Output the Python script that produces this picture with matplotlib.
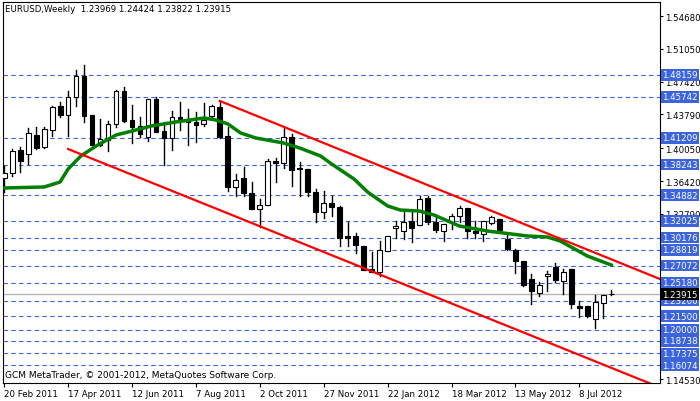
import numpy as np
import matplotlib
matplotlib.use("Agg")
import matplotlib.pyplot as plt

# weekly EURUSD candles (open, high, low, close)
opens = [1.3676, 1.3732, 1.3986, 1.3942, 1.4152, 1.4019, 1.4207, 1.4473, 1.4373, 1.4572,
         1.4804, 1.4373, 1.4041, 1.4097, 1.4274, 1.4638, 1.4318, 1.4251, 1.4130, 1.4550,
         1.4196, 1.4119, 1.4351, 1.4329, 1.4296, 1.4274, 1.4362, 1.4462, 1.4141, 1.3577,
         1.3676, 1.3510, 1.3333, 1.3378, 1.3864, 1.3842, 1.4130, 1.3787, 1.3776, 1.3521,
         1.3300, 1.3400, 1.3356, 1.3035, 1.3035, 1.2924, 1.2670, 1.2637, 1.2869, 1.3123,
         1.3090, 1.3201, 1.3156, 1.3455, 1.3190, 1.3090, 1.3190, 1.3256, 1.3345, 1.3090,
         1.3057, 1.3179, 1.3223, 1.3002, 1.2880, 1.2758, 1.2559, 1.2404, 1.2591, 1.2692,
         1.2537, 1.2670, 1.2261, 1.2261, 1.2117, 1.2294, 1.23969]
highs = [1.3809, 1.3997, 1.4019, 1.4229, 1.4240, 1.4240, 1.4473, 1.4517, 1.4638, 1.4871,
         1.4926, 1.4373, 1.4329, 1.4307, 1.4650, 1.4683, 1.4484, 1.4351, 1.4550, 1.4572,
         1.4296, 1.4417, 1.4517, 1.4439, 1.4406, 1.4506, 1.4484, 1.4528, 1.4240, 1.3721,
         1.3798, 1.3632, 1.3444, 1.3886, 1.3897, 1.4240, 1.4163, 1.3853, 1.3776, 1.3555,
         1.3532, 1.3477, 1.3367, 1.3190, 1.3068, 1.2924, 1.2858, 1.2980, 1.3035, 1.3201,
         1.3300, 1.3300, 1.3477, 1.3477, 1.3245, 1.3168, 1.3278, 1.3367, 1.3345, 1.3201,
         1.3201, 1.3256, 1.3223, 1.3057, 1.2891, 1.2758, 1.2614, 1.2526, 1.2647, 1.2736,
         1.2670, 1.2670, 1.2316, 1.2261, 1.2382, 1.2382, 1.24424]
lows = [1.3521, 1.3698, 1.3743, 1.3831, 1.3997, 1.4008, 1.4141, 1.4351, 1.4141, 1.4473,
        1.4296, 1.4041, 1.4030, 1.3975, 1.4240, 1.4296, 1.4063, 1.4130, 1.4086, 1.4185,
        1.3820, 1.3986, 1.4207, 1.4041, 1.4075, 1.4251, 1.4340, 1.4119, 1.3532, 1.3477,
        1.3477, 1.3333, 1.3134, 1.3378, 1.3632, 1.3787, 1.3588, 1.3477, 1.3477, 1.3190,
        1.3234, 1.3256, 1.2924, 1.2924, 1.2847, 1.2659, 1.2637, 1.2592, 1.2869, 1.3013,
        1.3002, 1.2968, 1.3156, 1.3168, 1.3079, 1.2980, 1.3112, 1.3190, 1.3013, 1.3013,
        1.2980, 1.3168, 1.3101, 1.2880, 1.2626, 1.2482, 1.2283, 1.2371, 1.2426, 1.2526,
        1.2393, 1.2238, 1.2137, 1.2137, 1.2016, 1.2128, 1.23822]
closes = [1.3732, 1.3975, 1.3864, 1.4174, 1.4008, 1.4218, 1.4462, 1.4373, 1.4572, 1.4804,
          1.4362, 1.4041, 1.4108, 1.4274, 1.4638, 1.4307, 1.4240, 1.4163, 1.4550, 1.4185,
          1.4119, 1.4351, 1.4329, 1.4296, 1.4262, 1.4318, 1.4473, 1.4130, 1.3577, 1.3654,
          1.3510, 1.3333, 1.3378, 1.3864, 1.3842, 1.4130, 1.3765, 1.3776, 1.3521, 1.3300,
          1.3400, 1.3356, 1.3013, 1.3013, 1.2935, 1.2659, 1.2637, 1.2880, 1.3035, 1.3145,
          1.3190, 1.3123, 1.3444, 1.3190, 1.3101, 1.3168, 1.3256, 1.3345, 1.3090, 1.3068,
          1.3201, 1.3245, 1.3101, 1.2891, 1.2758, 1.2493, 1.2426, 1.2493, 1.2614, 1.2548,
          1.2637, 1.2283, 1.2238, 1.2150, 1.2305, 1.2382, 1.23915]

# moving average (bar index, price)
ma_idx = [0, 5, 7, 8, 9.6, 11.5, 14, 16, 18.4, 21.5, 25, 26.5, 28, 29.6, 31.5, 35, 37,
          39.6, 41, 43.8, 45.5, 48, 49.6, 52, 53.8, 57, 60.5, 65.5, 68, 69.6, 73, 76]
ma_val = [1.3566, 1.3577, 1.3632, 1.3776, 1.3920, 1.4030, 1.4152, 1.4196, 1.4251, 1.4296,
          1.4340, 1.4318, 1.4274, 1.4174, 1.4119, 1.4063, 1.4008, 1.3920, 1.3831, 1.3665,
          1.3521, 1.3367, 1.3322, 1.3311, 1.3267, 1.3145, 1.3090, 1.3035, 1.3024, 1.2980,
          1.2814, 1.2714]

# channel lines
upper_line = ([27, 82.1], [1.4528, 1.2559])
lower_line = ([8, 82.1], [1.3997, 1.1360])

levels = [1.48159, 1.45742, 1.41209, 1.38243, 1.34882, 1.32025, 1.30176, 1.28819,
          1.27072, 1.25180, 1.23200, 1.21500, 1.20000, 1.18738, 1.17375, 1.16074]
axis_ticks = [1.54680, 1.51050, 1.47420, 1.43790, 1.40050, 1.36420, 1.32790, 1.14530]
last_price = 1.23915

date_pos = [0, 8, 16, 24, 32, 40, 48, 56, 64, 72]
date_labels = ["20 Feb 2011", "17 Apr 2011", "12 Jun 2011", "7 Aug 2011", "2 Oct 2011",
               "27 Nov 2011", "22 Jan 2012", "18 Mar 2012", "13 May 2012", "8 Jul 2012"]

fig = plt.figure(figsize=(7.0, 4.02), dpi=100)
ax = fig.add_axes([3 / 700, 18 / 402, 657 / 700, 381 / 402])
ax.set_xlim(-0.15, 82.1)
ax.set_ylim(1.1409, 1.5623)

for lv in levels:
    ax.axhline(lv, color="#3c64dc", lw=0.8, ls=(0, (4, 3)), zorder=1)
ax.axhline(last_price, color="#b4b4b4", lw=1, zorder=1)

w = 0.6
for i, (o, h, l, c) in enumerate(zip(opens, highs, lows, closes)):
    ax.plot([i, i], [l, h], color="black", lw=1, zorder=3)
    bottom, top = min(o, c), max(o, c)
    face = "white" if c >= o else "black"
    ax.add_patch(plt.Rectangle((i - w / 2, bottom), w, max(top - bottom, 0.0004),
                               facecolor=face, edgecolor="black", lw=0.8, zorder=4))

ax.plot(ma_idx, ma_val, color="green", lw=2.5, zorder=5)
ax.plot(*upper_line, color="red", lw=1.6, zorder=6)
ax.plot(*lower_line, color="red", lw=1.6, zorder=6)

fs = 6.2
ax.yaxis.tick_right()
ax.set_yticks(axis_ticks)
ax.set_yticklabels([f"{t:.5f}" for t in axis_ticks])
ax.tick_params(axis="y", labelsize=fs, length=2.5, pad=1)
ax.set_xticks(date_pos)
ax.set_xticklabels(date_labels, ha="left")
ax.tick_params(axis="x", labelsize=fs, length=3, pad=1)
for sp in ax.spines.values():
    sp.set_color("black")

for lv in levels:
    ax.text(1.003, lv, f"{lv:.5f}", transform=ax.get_yaxis_transform(), fontsize=fs,
            color="white", va="center", ha="left",
            bbox=dict(boxstyle="square,pad=0.15", fc="#3c64dc", ec="none"), zorder=10,
            clip_on=False)
ax.text(1.003, last_price, f"{last_price:.5f}", transform=ax.get_yaxis_transform(),
        fontsize=fs, color="white", va="center", ha="left",
        bbox=dict(boxstyle="square,pad=0.15", fc="black", ec="none"), zorder=11, clip_on=False)

ax.text(0.003, 0.995, "EURUSD,Weekly  1.23969 1.24424 1.23822 1.23915",
        transform=ax.transAxes, fontsize=fs, va="top", ha="left")
ax.text(0.003, 0.01, "GCM MetaTrader, \u00a9 2001-2012, MetaQuotes Software Corp.",
        transform=ax.transAxes, fontsize=fs + 0.3, va="bottom", ha="left")

fig.savefig("out.png", dpi=100)
